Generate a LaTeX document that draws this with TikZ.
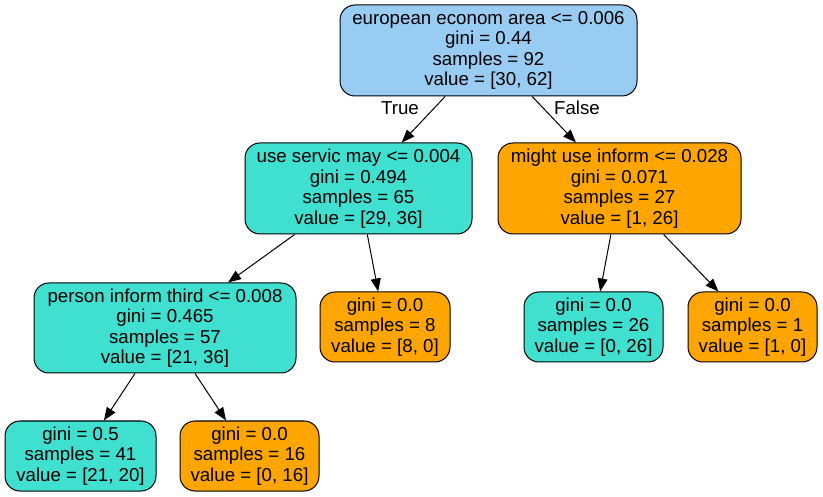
\documentclass[tikz,border=0pt]{standalone}
\usepackage{fontspec}
\setmainfont{Liberation Sans}
\usetikzlibrary{arrows.meta}
\definecolor{rootblue}{RGB}{153,204,242}
\definecolor{teal}{RGB}{64,224,208}
\definecolor{orng}{RGB}{255,165,0}
\tikzset{
  tree/.style={draw=black, line width=1pt, rounded corners=15pt, align=center, inner sep=0pt,
    font=\fontsize{18.7}{20.5}\selectfont},
  edge/.style={draw=black, line width=1pt, -{Triangle[length=13pt,width=10pt]}},
  elabel/.style={font=\fontsize{18.7}{20.5}\selectfont, inner sep=0pt}
}
\begin{document}
\begin{tikzpicture}[x=1pt,y=-1pt]
\useasboundingbox (0,0) rectangle (823,497);
\node[tree, fill=rootblue, minimum width=297pt, minimum height=91pt] (root) at (488.5,50.5)
  {european econom area <= 0.006\\gini = 0.44\\samples = 92\\value = [30, 62]};
\node[tree, fill=teal, minimum width=227pt, minimum height=91pt] (l1) at (358.5,188.5)
  {use servic may <= 0.004\\gini = 0.494\\samples = 65\\value = [29, 36]};
\node[tree, fill=orng, minimum width=243pt, minimum height=91pt] (r1) at (619.5,188.5)
  {might use inform <= 0.028\\gini = 0.071\\samples = 27\\value = [1, 26]};
\node[tree, fill=teal, minimum width=262pt, minimum height=90pt] (ll) at (165,328)
  {person inform third <= 0.008\\gini = 0.465\\samples = 57\\value = [21, 36]};
\node[tree, fill=orng, minimum width=130pt, minimum height=70pt] (lr) at (385,327)
  {gini = 0.0\\samples = 8\\value = [8, 0]};
\node[tree, fill=teal, minimum width=139pt, minimum height=70pt] (rl) at (593.5,327)
  {gini = 0.0\\samples = 26\\value = [0, 26]};
\node[tree, fill=orng, minimum width=129pt, minimum height=70pt] (rr) at (752.5,327)
  {gini = 0.0\\samples = 1\\value = [1, 0]};
\node[tree, fill=teal, minimum width=151pt, minimum height=70pt] (lll) at (80.5,456)
  {gini = 0.5\\samples = 41\\value = [21, 20]};
\node[tree, fill=orng, minimum width=139pt, minimum height=70pt] (llr) at (249.5,456)
  {gini = 0.0\\samples = 16\\value = [0, 16]};
\draw[edge] (root) -- (l1);
\draw[edge] (root) -- (r1);
\draw[edge] (l1) -- (ll);
\draw[edge] (l1) -- (lr);
\draw[edge] (r1) -- (rl);
\draw[edge] (r1) -- (rr);
\draw[edge] (ll) -- (lll);
\draw[edge] (ll) -- (llr);
\node[elabel] (tl) at (400,108) {True};
\node[elabel] (fl) at (577,108) {False};
\end{tikzpicture}
\end{document}
